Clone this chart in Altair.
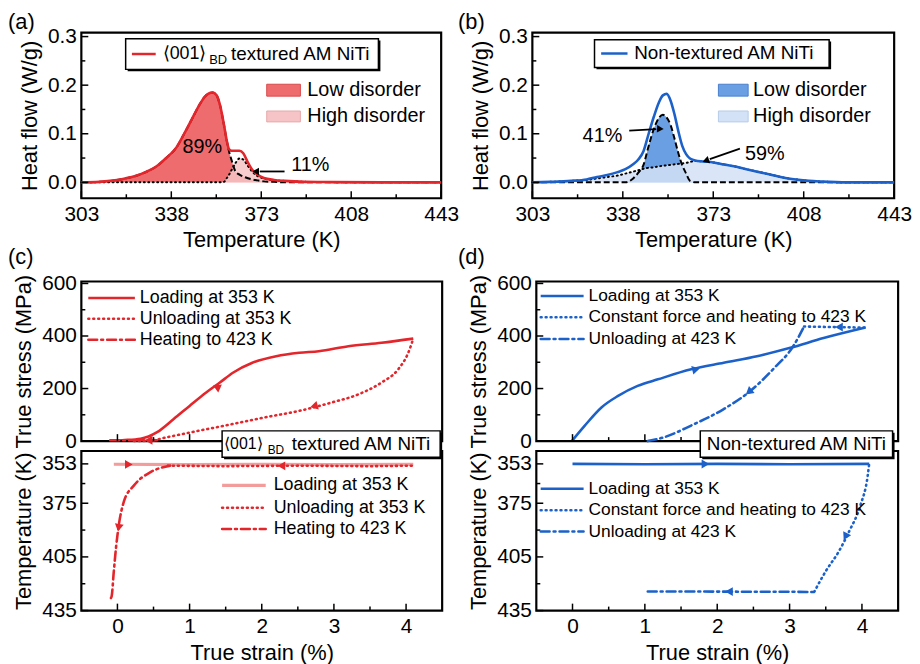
import altair as alt
import pandas as pd

FONT = "Liberation Sans"
RED = "#e3262b"
RED_PALE = "#f29c9c"
RED_FILL = "#ee6c6e"
RED_FILL2 = "#f6c4c6"
BLUE = "#1b61c9"
BLUE_FILL = "#6b9fe3"
BLUE_FILL2 = "#d3e2f6"

# ---------------- (a) DSC, <001>BD textured AM NiTi ----------------
a_temp = [303, 310, 316, 320, 324, 328, 332, 336, 340, 343, 346, 349, 351, 353, 354, 355.5, 357,
          358.5, 359.5, 360.5, 361.5, 363, 364.5, 366, 367.5, 369.5, 371.5, 374, 378, 382, 390, 400, 420, 443]
a_total = [0, 0.001, 0.004, 0.008, 0.013, 0.021, 0.032, 0.050, 0.072, 0.100, 0.130, 0.160, 0.176, 0.184,
           0.185, 0.180, 0.158, 0.118, 0.088, 0.068, 0.065, 0.065, 0.065, 0.060, 0.044, 0.026, 0.016,
           0.009, 0.005, 0.003, 0.001, 0.0005, 0, 0]
a_low = [0, 0.001, 0.004, 0.008, 0.013, 0.021, 0.032, 0.050, 0.072, 0.100, 0.130, 0.160, 0.176, 0.184,
         0.185, 0.180, 0.158, 0.118, 0.088, 0.063, 0.045, 0.022, 0.016, 0.012, 0.009, 0.006, 0.004,
         0.002, 0.001, 0, 0, 0, 0, 0]
a_high = [0, 0, 0, 0, 0, 0, 0, 0, 0, 0, 0, 0, 0, 0, 0, 0, 0,
          0.001, 0.008, 0.016, 0.026, 0.040, 0.049, 0.047, 0.036, 0.022, 0.013, 0.008, 0.004, 0.003,
          0.001, 0.0005, 0, 0]

# ---------------- (b) DSC, non-textured AM NiTi ----------------
b_temp = [303, 310, 318, 324, 328, 332, 336, 339, 342, 344, 346, 348, 350, 352, 353.5, 355, 356.5, 358,
          359.5, 361, 362.5, 364, 366, 369, 373, 377, 381, 385, 390, 395, 400, 405, 410, 415, 425, 443]
b_total = [0, 0.001, 0.003, 0.006, 0.011, 0.015, 0.021, 0.027, 0.037, 0.047, 0.064, 0.100, 0.135, 0.165,
           0.179, 0.182, 0.168, 0.140, 0.105, 0.075, 0.058, 0.049, 0.045, 0.043, 0.041, 0.037, 0.033,
           0.028, 0.022, 0.016, 0.010, 0.006, 0.003, 0.0015, 0, 0]
b_low = [0, 0, 0, 0, 0, 0, 0, 0, 0.008, 0.020, 0.036, 0.075, 0.110, 0.133, 0.139, 0.133, 0.118, 0.090,
         0.060, 0.035, 0.018, 0.003, 0, 0, 0, 0, 0, 0, 0, 0, 0, 0, 0, 0, 0, 0]
b_high = [0, 0.001, 0.003, 0.005, 0.008, 0.011, 0.014, 0.018, 0.022, 0.025, 0.028, 0.030, 0.031, 0.033,
          0.034, 0.035, 0.036, 0.037, 0.038, 0.039, 0.040, 0.042, 0.044, 0.043, 0.041, 0.037, 0.033,
          0.028, 0.022, 0.016, 0.010, 0.006, 0.003, 0.0015, 0, 0]

# ---------------- (c) textured: stress / temperature vs strain ----------------
c_load_strain = [-0.09, 0.1, 0.32, 0.55, 0.78, 1.0, 1.23, 1.42, 1.6, 1.87, 2.2, 2.52, 2.79, 3.2, 3.66, 4.1]
c_load_stress = [2, 4, 9, 34, 84, 134, 185, 223, 260, 298, 323, 336, 342, 361, 374, 390]
c_unload_strain = [0.23, 0.46, 0.69, 1.14, 1.6, 2.06, 2.52, 2.97, 3.34, 3.66, 3.89, 4.03, 4.1]
c_unload_stress = [0, 2, 15, 40, 65, 91, 115, 147, 178, 223, 273, 336, 390]
c_heat_strain = [-0.1, 0.2, 0.6]
c_heat_stress = [3, 3, 3]
c_arrow_strain = [1.39, 2.74, 0.45]
c_arrow_stress = [204, 134, 3]
c_arrow_angle = [54, 255, 270]

c_loadT_strain = [-0.05, 1.0, 2.0, 3.0, 4.1]
c_loadT_temp = [353.2, 353.4, 353.2, 353.4, 353.3]
c_unloadT_strain = [0.7, 1.5, 2.5, 3.5, 4.1]
c_unloadT_temp = [354.0, 354.3, 354.0, 354.3, 354.0]
c_heatT_strain = [-0.09, -0.08, -0.05, -0.02, 0.02, 0.09, 0.23, 0.46, 0.73]
c_heatT_temp = [428, 427, 413, 400, 387, 374, 365, 357.6, 354]
c_arrowT_strain = [0.14, 2.29, 0.02]
c_arrowT_temp = [353.3, 354.1, 388]
c_arrowT_angle = [90, 270, 190]

# ---------------- (d) non-textured: stress / temperature vs strain ----------------
d_load_strain = [-0.01, 0.17, 0.4, 0.63, 0.9, 1.18, 1.64, 2.09, 2.55, 3.01, 3.47, 4.05]
d_load_stress = [0, 59, 128, 172, 210, 235, 273, 298, 323, 355, 392, 432]
d_heat_strain = [3.2, 3.6, 4.05]
d_heat_stress = [436, 434, 432]
d_unload_strain = [1.04, 1.27, 1.64, 2.09, 2.46, 2.77, 3.05, 3.2]
d_unload_stress = [0, 15, 59, 122, 191, 273, 361, 436]
d_arrow_strain = [1.69, 3.7, 2.45]
d_arrow_stress = [272, 434, 190]
d_arrow_angle = [76, 270, 231]

d_loadT_strain = [0.0, 1.0, 2.0, 3.0, 4.1]
d_loadT_temp = [353, 353.2, 353, 353.2, 353]
d_heatT_strain = [3.34, 3.5, 3.68, 3.82, 3.98, 4.08, 4.1]
d_heatT_temp = [424.6, 413, 402, 391, 376, 359.5, 353]
d_unloadT_strain = [1.04, 2.0, 3.0, 3.34]
d_unloadT_temp = [424.3, 424.4, 424.5, 424.6]
d_arrowT_strain = [1.82, 3.78, 2.18]
d_arrowT_temp = [353.1, 393, 424.4]
d_arrowT_angle = [90, 207, 270]

# ---------------- axes ----------------
dsc_x_major = [303, 338, 373, 408, 443]
dsc_x_minor = [320.5, 355.5, 390.5, 425.5]
dsc_y_major = [0.0, 0.1, 0.2, 0.3]
dsc_y_minor = [0.05, 0.15, 0.25]
strain_major = [0, 1, 2, 3, 4]
strain_minor = [0.5, 1.5, 2.5, 3.5]
stress_major = [0, 200, 400, 600]
stress_minor = [100, 300, 500]
temp_major = [353, 375, 405, 435]
temp_minor = [364, 390, 420]

dsc_x = alt.Scale(domain=[303, 443], nice=False, zero=False)
dsc_y = alt.Scale(domain=[-0.0327, 0.308], nice=False, zero=False)
strain_s = alt.Scale(domain=[-0.5, 4.5], nice=False, zero=False)
stress_s = alt.Scale(domain=[0, 607.5], nice=False)
temp_s = alt.Scale(domain=[345.8, 435], nice=False, zero=False, reverse=True)

DOT = [1, 4]
DASHDOT = [9, 4, 2, 4]


def axis(values, title, fmt=None):
    kw = dict(values=values, title=title, labelFontSize=21, titleFontSize=22, labelFont=FONT,
              titleFont=FONT, labelColor="black", titleColor="black", titleFontWeight="normal",
              domain=False, ticks=False, grid=False, labelPadding=5, titlePadding=6, labelFlush=False)
    if fmt:
        kw["format"] = fmt
    return alt.Axis(**kw)


AX_DSC_X = axis(dsc_x_major, "Temperature (K)", "d")
AX_DSC_Y = axis(dsc_y_major, "Heat flow (W/g)", ".1f")
AX_STRAIN = axis(strain_major, "True strain (%)")
AX_STRESS = axis(stress_major, "True stress (MPa)")
AX_TEMP = axis(temp_major, "Temperature (K)")
AX_BLANK = alt.Axis(labels=False, title="", domain=False, ticks=False, grid=False)


def one():
    return alt.Chart(pd.DataFrame({"k": [0]}))


def label(s, x, y, size, align="left", color="black"):
    return one().mark_text(text=s, font=FONT, fontSize=size, align=align, baseline="middle",
                           color=color).encode(x=alt.value(x), y=alt.value(y))


def seg(x1, y1, x2, y2, color="black", width=2.0, dash=None):
    props = dict(color=color, strokeWidth=width)
    if dash is not None:
        props["strokeDash"] = dash
        props["strokeCap"] = "round"
    return one().mark_rule(**props).encode(x=alt.value(x1), y=alt.value(y1),
                                           x2=alt.value(x2), y2=alt.value(y2))


def head(x, y, angle, color="black", size=60):
    return one().mark_point(shape="triangle", filled=True, size=size, color=color, opacity=1,
                            strokeWidth=0).encode(x=alt.value(x), y=alt.value(y), angle=alt.value(angle))


def rect(x1, y1, x2, y2, fill, stroke="black", sw=1.5, fop=1.0):
    return one().mark_rect(fill=fill, fillOpacity=fop, stroke=stroke, strokeWidth=sw).encode(
        x=alt.value(x1), x2=alt.value(x2), y=alt.value(y1), y2=alt.value(y2))


def box(x1, y1, x2, y2):
    return [rect(x1 + 2, y1 + 2, x2 + 2, y2 + 2, "black", sw=0),
            rect(x1, y1, x2, y2, "white", sw=1.5)]


def frame(w, h):
    return rect(0, 0, w, h, "white", sw=2.2, fop=0)


def ticks(xscale, yscale, xaxis, yaxis, xmaj, xmin, ymaj, ymin, h):
    out = []
    for vals, ln in ((xmaj, 7), (xmin, 4)):
        out.append(alt.Chart(pd.DataFrame({"v": vals})).mark_rule(color="black", strokeWidth=1.5)
                   .encode(x=alt.X("v:Q", scale=xscale, axis=xaxis), y=alt.value(h), y2=alt.value(h - ln)))
    for vals, ln in ((ymaj, 7), (ymin, 4)):
        out.append(alt.Chart(pd.DataFrame({"v": vals})).mark_rule(color="black", strokeWidth=1.5)
                   .encode(y=alt.Y("v:Q", scale=yscale, axis=yaxis), x=alt.value(0), x2=alt.value(ln)))
    return out


def curve(xs, ys, xscale, yscale, color, xaxis, yaxis, width=2.6, dash=None, interp="monotone"):
    d = pd.DataFrame({"x": xs, "y": ys})
    props = dict(color=color, strokeWidth=width, interpolate=interp)
    if dash is not None:
        props["strokeDash"] = dash
        props["strokeCap"] = "round"
    return alt.Chart(d).mark_line(**props).encode(
        x=alt.X("x:Q", scale=xscale, axis=xaxis), y=alt.Y("y:Q", scale=yscale, axis=yaxis))


def heads(xs, ys, angs, xscale, yscale, color, xaxis, yaxis):
    out = []
    for xv, yv, av in zip(xs, ys, angs):
        d = pd.DataFrame({"x": [xv], "y": [yv]})
        out.append(alt.Chart(d).mark_point(shape="triangle", filled=True, size=80, color=color, opacity=1,
                                           strokeWidth=0).encode(
            x=alt.X("x:Q", scale=xscale, axis=xaxis), y=alt.Y("y:Q", scale=yscale, axis=yaxis),
            angle=alt.value(av)))
    return out


def dsc_panel(temps, total, low, high, line_c, fill1, fill2, w, h):
    d = pd.DataFrame({"T": temps, "total": total, "low": low, "high": high})
    X = alt.X("T:Q", scale=dsc_x, axis=AX_DSC_X)

    def Y(f):
        return alt.Y(f + ":Q", scale=dsc_y, axis=AX_DSC_Y)

    base = alt.Chart(d)
    return [
        base.mark_area(color=fill1, interpolate="monotone").encode(x=X, y=Y("low"), y2=alt.datum(0)),
        frame(w, h),
        base.mark_area(color=fill2, opacity=0.85, interpolate="monotone").encode(
            x=X, y=Y("high"), y2=alt.datum(0)),
        base.mark_line(color="black", strokeWidth=2, strokeDash=[1, 3.5], strokeCap="round",
                       interpolate="monotone").encode(x=X, y=Y("high")),
        base.mark_line(color="black", strokeWidth=2, strokeDash=[6, 3],
                       interpolate="monotone").encode(x=X, y=Y("low")),
        base.mark_line(color=line_c, strokeWidth=2.6, interpolate="monotone").encode(x=X, y=Y("total")),
    ] + ticks(dsc_x, dsc_y, AX_DSC_X, AX_DSC_Y, dsc_x_major, dsc_x_minor, dsc_y_major, dsc_y_minor, h)


# ---------------- panel (a) ----------------
WA, HA = 363, 167
pa = alt.layer(
    *dsc_panel(a_temp, a_total, a_low, a_high, RED, RED_FILL, RED_FILL2, WA, HA),
    *box(44.7, 6, 299.7, 37),
    seg(51, 21.5, 75, 21.5, RED, 2.5),
    label("⟨001⟩", 82, 21.5, 18),
    label("BD", 129, 28, 13),
    label("textured AM NiTi", 151, 21.5, 19),
    rect(187, 52, 221, 64, RED_FILL, stroke="#d94a4c", sw=1),
    label("Low disorder", 228, 57.5, 20),
    rect(187, 79, 221, 90, RED_FILL2, stroke="#e8a8aa", sw=1),
    label("High disorder", 228, 84.5, 20),
    label("89%", 122, 115, 20, align="center"),
    label("11%", 231, 134, 20, align="center"),
    seg(205, 140, 180, 140, "black", 1.8),
    head(177, 140, 270),
    label("(a)", -74, -11, 22),
    label("(c)", -74, 226, 22),
).properties(width=WA, height=HA)

# ---------------- panel (b) ----------------
WB, HB = 365, 167
pb = alt.layer(
    *dsc_panel(b_temp, b_total, b_low, b_high, BLUE, BLUE_FILL, BLUE_FILL2, WB, HB),
    *box(62.7, 7, 299.4, 35),
    seg(69.4, 21, 96, 21, BLUE, 2.5),
    label("Non-textured AM NiTi", 102.7, 21, 19),
    rect(187.7, 52, 217.7, 64, BLUE_FILL, stroke="#4a7fcc", sw=1),
    label("Low disorder", 222.7, 57.5, 20),
    rect(187.7, 79, 217.7, 90, BLUE_FILL2, stroke="#b5cbe8", sw=1),
    label("High disorder", 222.7, 84.5, 20),
    label("41%", 70.7, 104, 20, align="center"),
    seg(97.7, 98.7, 125, 97.2, "black", 1.8),
    head(128, 97, 93),
    label("59%", 234.4, 122, 20, align="center"),
    seg(209.4, 117, 179, 127.6, "black", 1.8),
    head(176, 128.7, 251),
    label("(b)", -75, -11, 22),
    label("(d)", -75, 226, 22),
).properties(width=WB, height=HB)

# ---------------- panel (c) ----------------
WC, HC = 364, 161
c1 = alt.layer(
    curve(c_load_strain, c_load_stress, strain_s, stress_s, RED, AX_BLANK, AX_STRESS),
    frame(WC, HC),
    curve(c_unload_strain, c_unload_stress, strain_s, stress_s, RED, AX_BLANK, AX_STRESS, dash=DOT),
    curve(c_heat_strain, c_heat_stress, strain_s, stress_s, RED, AX_BLANK, AX_STRESS, dash=DASHDOT, interp="linear"),
    *heads(c_arrow_strain, c_arrow_stress, c_arrow_angle, strain_s, stress_s, RED, AX_BLANK, AX_STRESS),
    *ticks(strain_s, stress_s, AX_BLANK, AX_STRESS, strain_major, strain_minor, stress_major, stress_minor, HC),
    seg(7, 16.7, 54, 16.7, RED, 2.5),
    label("Loading at 353 K", 59, 16.7, 18),
    seg(7, 37.7, 54, 37.7, RED, 2.5, DOT),
    label("Unloading at 353 K", 59, 37.7, 18),
    seg(7, 58.7, 54, 58.7, RED, 2.5, DASHDOT),
    label("Heating to 423 K", 59, 58.7, 18),
).properties(width=WC, height=HC)

c2 = alt.layer(
    curve(c_loadT_strain, c_loadT_temp, strain_s, temp_s, RED_PALE, AX_STRAIN, AX_TEMP, width=3.2, interp="linear"),
    frame(WC, HC),
    curve(c_unloadT_strain, c_unloadT_temp, strain_s, temp_s, RED, AX_STRAIN, AX_TEMP, dash=DOT, interp="linear"),
    curve(c_heatT_strain, c_heatT_temp, strain_s, temp_s, RED, AX_STRAIN, AX_TEMP, dash=DASHDOT),
    *heads(c_arrowT_strain, c_arrowT_temp, c_arrowT_angle, strain_s, temp_s, RED, AX_STRAIN, AX_TEMP),
    *ticks(strain_s, temp_s, AX_STRAIN, AX_TEMP, strain_major, strain_minor, temp_major, temp_minor, HC),
    seg(142, 34.7, 186, 34.7, RED_PALE, 3.2),
    label("Loading at 353 K", 194, 34.7, 18),
    seg(142, 57.3, 186, 57.3, RED, 2.6, DOT),
    label("Unloading at 353 K", 194, 57.3, 18),
    seg(142, 78.7, 186, 78.7, RED, 2.6, DASHDOT),
    label("Heating to 423 K", 194, 78.7, 18),
    *box(142, -20.3, 362, 6.3),
    label("⟨001⟩", 144, -7, 16),
    label("BD", 188, -1, 12),
    label("textured AM NiTi", 212.3, -7, 19),
).properties(width=WC, height=HC)

# ---------------- panel (d) ----------------
WD, HD = 365, 161
d1 = alt.layer(
    curve(d_load_strain, d_load_stress, strain_s, stress_s, BLUE, AX_BLANK, AX_STRESS),
    frame(WD, HD),
    curve(d_heat_strain, d_heat_stress, strain_s, stress_s, BLUE, AX_BLANK, AX_STRESS, dash=DOT, interp="linear"),
    curve(d_unload_strain, d_unload_stress, strain_s, stress_s, BLUE, AX_BLANK, AX_STRESS, dash=DASHDOT),
    *heads(d_arrow_strain, d_arrow_stress, d_arrow_angle, strain_s, stress_s, BLUE, AX_BLANK, AX_STRESS),
    *ticks(strain_s, stress_s, AX_BLANK, AX_STRESS, strain_major, strain_minor, stress_major, stress_minor, HD),
    seg(4.4, 14.7, 47.7, 14.7, BLUE, 2.5),
    label("Loading at 353 K", 52.7, 14.7, 17.5),
    seg(4.4, 36, 47.7, 36, BLUE, 2.5, DOT),
    label("Constant force and heating to 423 K", 52.7, 36, 17.5),
    seg(4.4, 58, 47.7, 58, BLUE, 2.5, DASHDOT),
    label("Unloading at 423 K", 52.7, 58, 17.5),
).properties(width=WD, height=HD)

d2 = alt.layer(
    curve(d_loadT_strain, d_loadT_temp, strain_s, temp_s, BLUE, AX_STRAIN, AX_TEMP, interp="linear"),
    frame(WD, HD),
    curve(d_heatT_strain, d_heatT_temp, strain_s, temp_s, BLUE, AX_STRAIN, AX_TEMP, dash=DOT),
    curve(d_unloadT_strain, d_unloadT_temp, strain_s, temp_s, BLUE, AX_STRAIN, AX_TEMP, dash=DASHDOT, interp="linear"),
    *heads(d_arrowT_strain, d_arrowT_temp, d_arrowT_angle, strain_s, temp_s, BLUE, AX_STRAIN, AX_TEMP),
    *ticks(strain_s, temp_s, AX_STRAIN, AX_TEMP, strain_major, strain_minor, temp_major, temp_minor, HD),
    seg(4.4, 38, 47.7, 38, BLUE, 2.5),
    label("Loading at 353 K", 52.7, 38, 17.5),
    seg(4.4, 59.7, 47.7, 59.7, BLUE, 2.5, DOT),
    label("Constant force and heating to 423 K", 52.7, 59.7, 17.5),
    seg(4.4, 81.3, 47.7, 81.3, BLUE, 2.5, DASHDOT),
    label("Unloading at 423 K", 52.7, 81.3, 17.5),
    *box(165.4, -20.3, 359.4, 6.3),
    label("Non-textured AM NiTi", 262.4, -7, 19, align="center"),
).properties(width=WD, height=HD)

row1 = alt.hconcat(pa, pb, spacing=92, bounds="flush")
col_c = alt.vconcat(c1, c2, spacing=10, bounds="flush")
col_d = alt.vconcat(d1, d2, spacing=10, bounds="flush")
row2 = alt.hconcat(col_c, col_d, spacing=23)

chart = alt.vconcat(row1, row2, spacing=4, padding=0).configure(
    font=FONT
).configure_view(strokeWidth=0)

chart.save("out.html", embed_options={"renderer": "svg", "actions": False})
